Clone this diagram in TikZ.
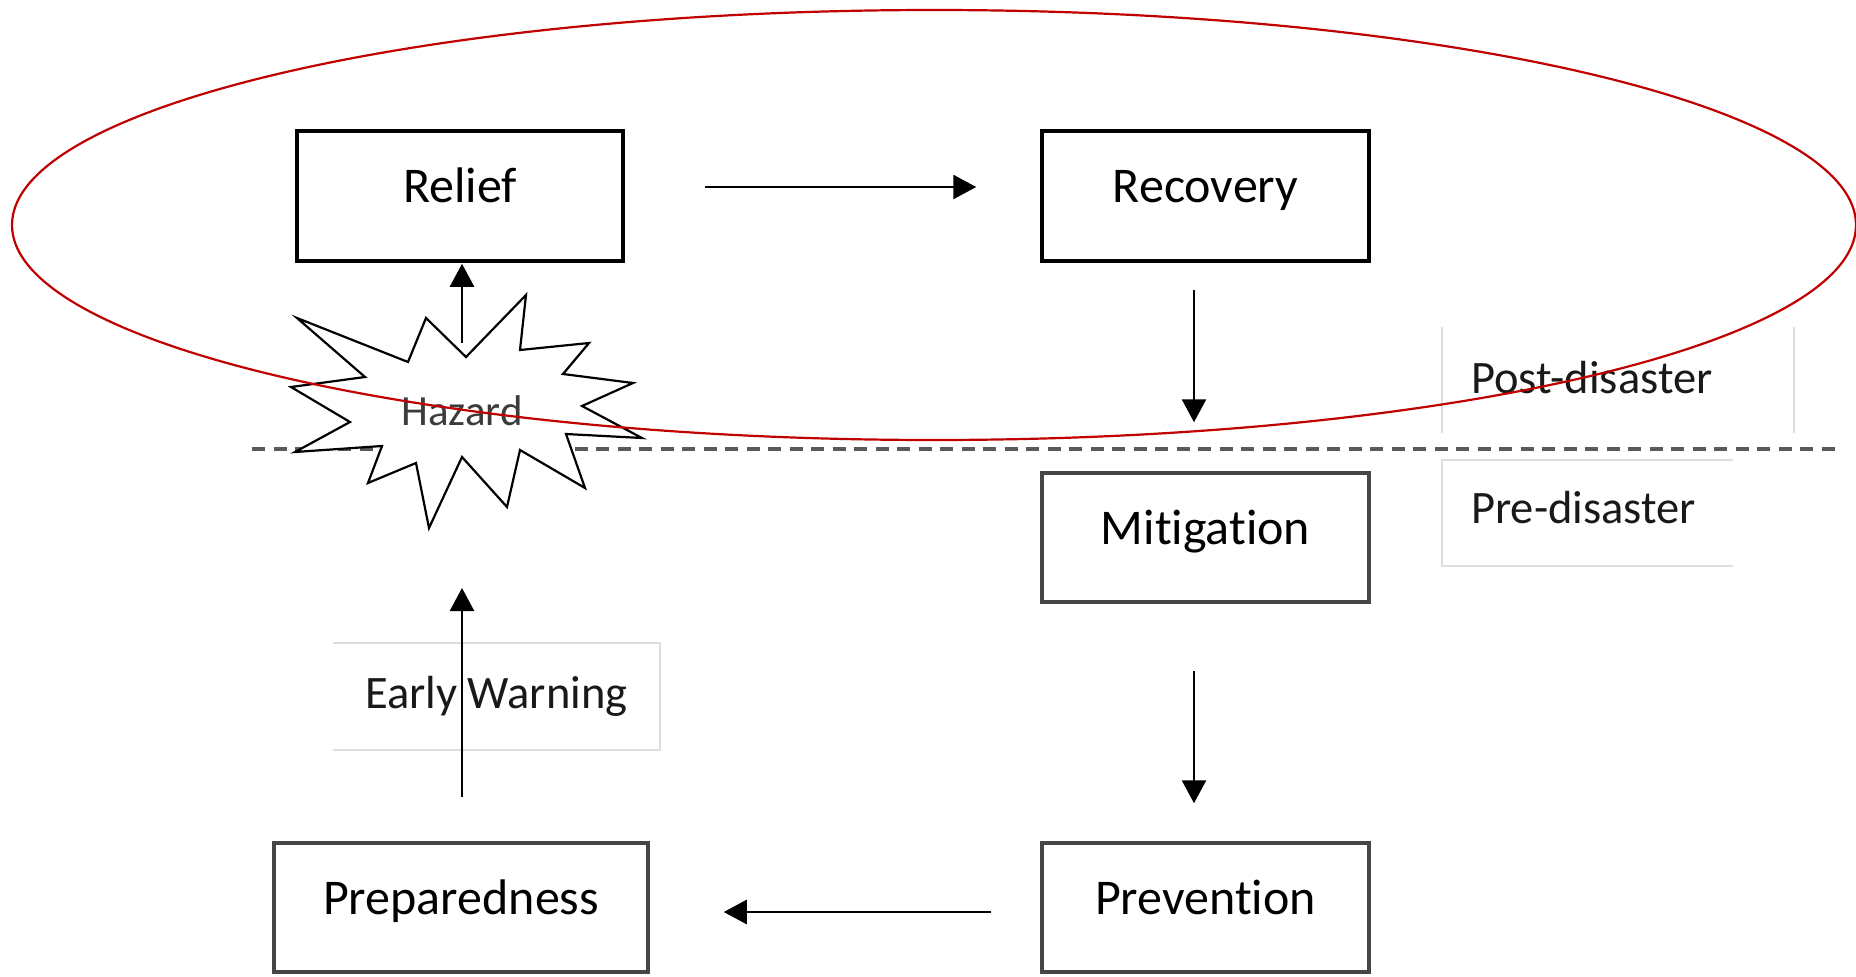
\documentclass[tikz,border=0pt]{standalone}
\usepackage{fontspec}
\setmainfont{Carlito}[Ligatures={NoCommon}]
\usetikzlibrary{arrows.meta,calc}
\definecolor{ellred}{RGB}{192,0,0}
\definecolor{boxgray}{RGB}{70,70,70}
\definecolor{framegray}{RGB}{222,222,222}
\definecolor{dashgray}{RGB}{90,90,90}
\definecolor{hazgray}{RGB}{60,60,60}
\definecolor{labelgray}{RGB}{25,25,25}
\begin{document}
\begin{tikzpicture}[x=1pt,y=-1pt,
  stagebox/.style={draw=black, line width=3.5pt, fill=white, inner sep=0pt,
    minimum height=130pt, text height=71pt, text depth=59pt,
    font=\fontsize{50}{60}\selectfont},
  darkbox/.style={draw=boxgray},
  arr/.style={line width=2.6pt, -{Triangle[length=23pt,width=24pt]}},
  labeltxt/.style={inner sep=0pt, anchor=base west, text=labelgray, font=\fontsize{46.5}{56}\selectfont},
  framepart/.style={draw=framegray, line width=2.5pt},
  divider/.style={draw=dashgray, line width=3.5pt, dash pattern=on 13pt off 8.5pt},
  starline/.style={draw=black, line width=2.2pt, fill=white, line join=miter},
  ring/.style={draw=ellred, line width=2.2pt}
]
\useasboundingbox (0,0) rectangle (1856,977);

% divider
\coordinate (dl) at (252,449);
\coordinate (dr) at (1837,449);
\draw[divider] (dl) -- (dr);

% stage boxes
\node[stagebox, minimum width=326pt] (relief) at (460,196) {Relief};
\node[stagebox, minimum width=327pt] (recovery) at (1205.5,196) {Recovery};
\node[stagebox, darkbox, minimum width=327pt, minimum height=129pt, text depth=58pt] (mitigation) at (1205.5,537.5) {Mitigation};
\node[stagebox, darkbox, minimum width=327pt, minimum height=129pt, text depth=58pt] (prevention) at (1205.5,907.5) {Prevention};
\node[stagebox, darkbox, minimum width=374pt, minimum height=129pt, text depth=58pt] (preparedness) at (461,907.5) {Preparedness};

% hazard star
\draw[starline] (297,318) -- (408,362) -- (426,318) -- (466,357) -- (526,295) -- (520,350)
  -- (589,343) -- (563,374) -- (633,383) -- (582,406) -- (642,438) -- (566,434)
  -- (585,488) -- (520,450) -- (507,507) -- (462,457) -- (429,528) -- (416,463)
  -- (368,483) -- (382,446) -- (295,452) -- (350,422) -- (291,387) -- (365,377) -- cycle;
\coordinate (hazc) at (462,413);
\node[inner sep=0pt, anchor=base, text=hazgray, font=\fontsize{43}{50}\selectfont] (hazard) at (462,425) {Hazard};

% label frames
\node[inner sep=0pt, minimum width=352pt, minimum height=106pt] (postframe) at (1618,380) {};
\draw[framepart] (postframe.north west) -- (postframe.south west);
\draw[framepart] (postframe.north east) -- (postframe.south east);
\node[labeltxt] (post) at (1471,393) {Post-disaster};

\node[inner sep=0pt, minimum width=291pt, minimum height=106pt] (preframe) at (1587.5,513) {};
\draw[framepart] (preframe.north east) -- (preframe.north west) -- (preframe.south west) -- (preframe.south east);
\node[labeltxt] (pre) at (1471,523) {Pre-disaster};

\node[inner sep=0pt, minimum width=327pt, minimum height=107pt] (ewframe) at (496.5,696.5) {};
\draw[framepart] (ewframe.north west) -- (ewframe.north east) -- (ewframe.south east) -- (ewframe.south west);
\node[labeltxt] (ew) at (365,708) {Early Warning};

% connectors
\draw[arr, shorten <=80pt, shorten >=64pt] ([yshift=9pt]relief.east) -- ([yshift=9pt]recovery.west);
\draw[arr, shorten <=27pt, shorten >=49pt] ([xshift=-11.5pt]recovery.south) -- ([xshift=-11.5pt]mitigation.north);
\draw[arr, shorten <=67pt, shorten >=38pt] ([xshift=-11.5pt]mitigation.south) -- ([xshift=-11.5pt]prevention.north);
\draw[arr, shorten <=49pt, shorten >=74pt] ([yshift=-4.5pt]prevention.west) -- ([yshift=-4.5pt]preparedness.east);
\draw[arr, shorten <=44pt, shorten >=175pt] (hazc |- preparedness.north) -- (hazc);
\draw[arr, shorten <=70pt, shorten >=1pt] (hazc) -- (hazc |- relief.south);

% red ellipse
\draw[ring] (934,225) ellipse [x radius=922pt, y radius=215pt];
\end{tikzpicture}
\end{document}
